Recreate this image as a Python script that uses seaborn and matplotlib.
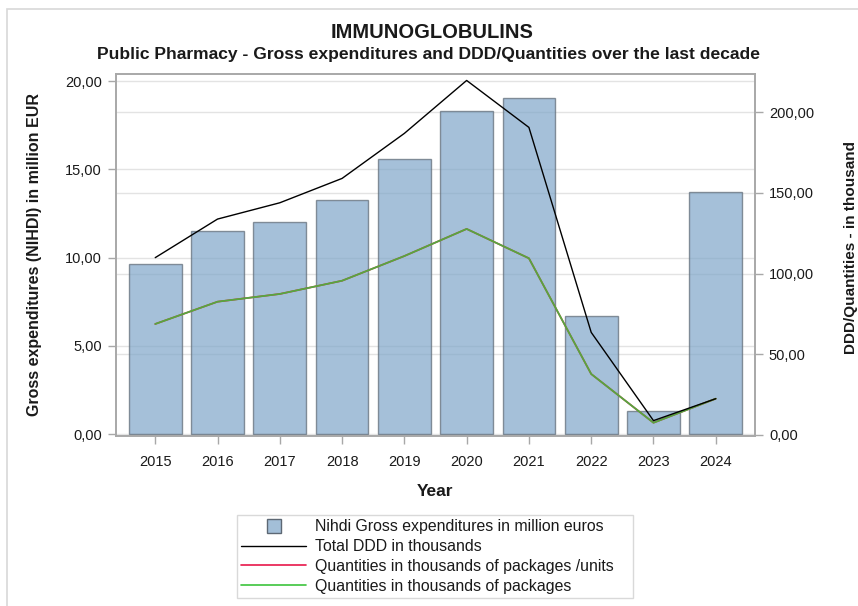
import numpy as np
import pandas as pd
import matplotlib
matplotlib.use("Agg")
import matplotlib.pyplot as plt
from matplotlib.ticker import FuncFormatter, MultipleLocator
from matplotlib.lines import Line2D
from matplotlib.patches import Rectangle
import seaborn as sns

# ---- data ----
years = ["2015", "2016", "2017", "2018", "2019", "2020", "2021", "2022", "2023", "2024"]
gross_exp_meur = [9.61, 11.50, 12.01, 13.24, 15.56, 18.28, 19.05, 6.67, 1.30, 13.69]
total_ddd_k = [109.9, 133.8, 143.9, 159.0, 186.9, 219.7, 190.6, 63.6, 8.9, 22.5]
qty_pack_units_k = [68.8, 82.6, 87.4, 95.6, 110.9, 127.7, 109.5, 37.8, 7.6, 22.5]
qty_packages_k = [68.8, 82.6, 87.4, 95.6, 110.9, 127.7, 109.5, 37.8, 7.6, 22.5]

legend_labels = [
    "Nihdi Gross expenditures in million euros",
    "Total DDD in thousands",
    "Quantities in thousands of packages /units",
    "Quantities in thousands of packages",
]

df = pd.DataFrame({
    "Year": years,
    "gross": gross_exp_meur,
    "ddd": total_ddd_k,
    "qty_units": qty_pack_units_k,
    "qty_pack": qty_packages_k,
})

sns.set_theme(style="white")
plt.rcParams["font.family"] = ["Liberation Sans", "DejaVu Sans"]

W, H = 858, 606
fig = plt.figure(figsize=(W / 100, H / 100), dpi=100)
fig.patch.set_facecolor("white")

# outer frame
fig.add_artist(Rectangle((7 / W, -0.05), 1.2, 1 - 9 / H + 0.05, transform=fig.transFigure,
                         fill=False, edgecolor="#d8d8d8", linewidth=1.2))

pos = [116 / W, 1 - 436 / H, (755 - 116) / W, (436 - 74) / H]
ax = fig.add_axes(pos)
axg = ax.twinx()   # grid for the right-hand scale, beneath the bars
ax2 = ax.twinx()   # lines on the right-hand scale

axg.set_zorder(0)
ax.set_zorder(1)
ax2.set_zorder(2)
for a in (ax, axg, ax2):
    a.patch.set_visible(False)

bar_face = "#7fa6c9"
edge_col = "#5d6874"
grid_col = "#e3e3e3"
spine_col = "#a8a8a8"
text_col = "#1a1a1a"

sns.barplot(data=df, x="Year", y="gross", ax=ax, color=bar_face, alpha=0.7,
            width=0.845, edgecolor=edge_col, linewidth=1.0, saturation=1)
for p in ax.patches:
    p.set_edgecolor(edge_col)

sns.pointplot(data=df, x="Year", y="qty_units", ax=ax2, color="#e8174a", markers="",
              linestyles="-", linewidth=1.2, errorbar=None)
sns.pointplot(data=df, x="Year", y="qty_pack", ax=ax2, color="#55a83f", markers="",
              linestyles="-", linewidth=1.3, errorbar=None)
sns.pointplot(data=df, x="Year", y="ddd", ax=ax2, color="black", markers="",
              linestyles="-", linewidth=1.0, errorbar=None)

fmt = FuncFormatter(lambda v, _: f"{v:.2f}".replace(".", ","))

ax.set_ylim(-0.11, 20.4)
ax.yaxis.set_major_locator(MultipleLocator(5))
ax.yaxis.set_major_formatter(fmt)
ax2.set_ylim(-0.62, 223.7)
axg.set_ylim(-0.62, 223.7)
ax2.yaxis.set_major_locator(MultipleLocator(50))
ax2.yaxis.set_major_formatter(fmt)
axg.yaxis.set_major_locator(MultipleLocator(50))
for a in (ax, axg, ax2):
    a.set_xlim(-0.63, 9.63)

ax.grid(axis="y", color=grid_col, linewidth=1.0)
ax.set_axisbelow(True)
axg.grid(axis="y", color=grid_col, linewidth=1.0)
axg.tick_params(right=False, labelright=False, left=False, labelleft=False)
for s in axg.spines.values():
    s.set_visible(False)
ax2.grid(False)

ax.set_xlabel("")
ax.set_ylabel("")
ax2.set_xlabel("")
ax2.set_ylabel("")
axg.set_ylabel("")

ax.set_xticks(range(len(years)))
ax.set_xticklabels(years)

ax.tick_params(axis="both", which="major", direction="out", length=6, width=1,
               color=spine_col, labelsize=10.5, labelcolor=text_col, pad=4,
               left=True, bottom=True)
ax.tick_params(axis="x", pad=8)
ax2.tick_params(axis="y", direction="out", length=6, width=1, color=spine_col,
                labelsize=10.5, labelcolor=text_col, right=True, pad=4)
ax2.tick_params(axis="x", bottom=False, labelbottom=False)

for a in (ax, ax2):
    for s in a.spines.values():
        s.set_color(spine_col)
        s.set_linewidth(1.2)

# titles and axis labels
fig.text(0.503, 1 - 33 / H, "IMMUNOGLOBULINS", ha="center", va="center",
         fontsize=14.5, fontweight="bold", color=text_col)
fig.text(0.499, 1 - 54.5 / H,
         "Public Pharmacy - Gross expenditures and DDD/Quantities over the last decade",
         ha="center", va="center", fontsize=12.6, fontweight="bold", color=text_col)
fig.text(35 / W, 1 - 255 / H, "Gross expenditures (NIHDI) in million EUR", rotation=90,
         ha="center", va="center", fontsize=11.5, fontweight="bold", color=text_col)
fig.text(851 / W, 1 - 247 / H, "DDD/Quantities - in thousand", rotation=90,
         ha="center", va="center", fontsize=11.0, fontweight="bold", color=text_col)
fig.text(435 / W, 1 - 492 / H, "Year", ha="center", va="center",
         fontsize=12.5, fontweight="bold", color=text_col)

handles = [
    Line2D([], [], linestyle="none", marker="s", markersize=10,
           markerfacecolor="#a3bfd8", markeredgecolor=edge_col, markeredgewidth=1.0),
    Line2D([], [], color="black", linewidth=1.0),
    Line2D([], [], color="#e8174a", linewidth=1.2),
    Line2D([], [], color="#3cc43c", linewidth=1.2),
]
leg = fig.legend(handles, legend_labels, loc="upper left",
                 bbox_to_anchor=(237 / W, 1 - 597 / H, (633 - 237) / W, (597 - 515) / H),
                 mode="expand", frameon=True, fancybox=False,
                 fontsize=11.4, handlelength=4.1, handletextpad=0.55,
                 labelspacing=0.30, borderpad=0.28, borderaxespad=0)
leg.get_frame().set_edgecolor("#d0d0d0")
leg.get_frame().set_linewidth(1.0)
for t in leg.get_texts():
    t.set_color(text_col)

fig.savefig("out.png", dpi=100)
